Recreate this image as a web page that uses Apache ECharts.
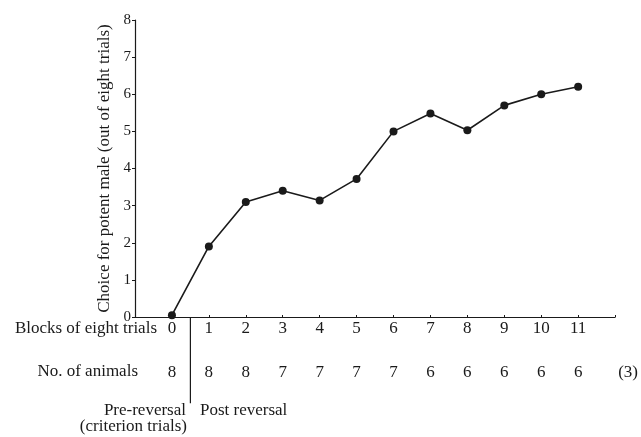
<!DOCTYPE html>
<html>
<head>
<meta charset="utf-8">
<script src="https://cdn.jsdelivr.net/npm/echarts@6/dist/echarts.min.js"></script>
<style>html,body{margin:0;padding:0;background:#fff;}#c{width:641px;height:437px;}</style>
</head>
<body>
<div id="c"></div>
<script>
var blocks = [0, 1, 2, 3, 4, 5, 6, 7, 8, 9, 10, 11];
var choice = [0.05, 1.9, 3.1, 3.4, 3.14, 3.72, 5.0, 5.48, 5.03, 5.7, 6.0, 6.2];
var animals = [8, 8, 8, 7, 7, 7, 7, 6, 6, 6, 6, 6];
var extraAnimals = '(3)';
var yTicks = [0, 1, 2, 3, 4, 5, 6, 7, 8];
var separatorX = 0.5;
var separatorBottom = -2.32;

var FONT = '"Liberation Serif", "DejaVu Serif", serif';
var INK = '#1a1a1a';
var FS = 17;
var chart = echarts.init(document.getElementById('c'), null, {renderer: 'canvas'});

var lineData = blocks.map(function (b, i) { return [b, choice[i]]; });

chart.setOption({
  animation: false,
  backgroundColor: '#fff',
  grid: {left: 135, right: 23, top: 20, bottom: 120, containLabel: false},
  xAxis: [{
    type: 'value', min: -1, max: 12, interval: 1,
    axisLine: {show: true, onZero: false, lineStyle: {color: INK, width: 1.2}},
    axisTick: {show: true, inside: true, length: 2, lineStyle: {color: INK}},
    splitLine: {show: false},
    axisLabel: {
      show: true, margin: 3, color: INK, fontFamily: FONT, fontSize: FS,
      showMinLabel: true, showMaxLabel: true,
      formatter: function (v) { return (v >= 0 && v <= 11) ? String(v) : ''; }
    }
  }, {
    type: 'value', min: -1, max: 12, interval: 1, position: 'bottom', offset: 44,
    axisLine: {show: false, onZero: false}, axisTick: {show: false}, splitLine: {show: false},
    axisLabel: {
      show: true, margin: 3, color: INK, fontFamily: FONT, fontSize: FS,
      showMinLabel: true, showMaxLabel: true,
      formatter: function (v) {
        if (v >= 0 && v <= 11) return String(animals[v]);
        if (v === 12) return '{p|' + extraAnimals + '}';
        return '';
      },
      rich: {p: {padding: [0, 0, 0, 26], color: INK, fontFamily: FONT, fontSize: FS}}
    }
  }],
  yAxis: {
    type: 'value', min: 0, max: 8, interval: 1,
    name: 'Choice for potent male (out of eight trials)',
    nameLocation: 'middle', nameGap: 19,
    nameTextStyle: {color: INK, fontFamily: FONT, fontSize: FS},
    axisLine: {show: true, onZero: false, lineStyle: {color: INK, width: 1.2}},
    axisTick: {show: true, length: 3, lineStyle: {color: INK}},
    splitLine: {show: false},
    axisLabel: {
      margin: 4, color: INK, fontFamily: FONT, fontSize: 15,
      formatter: function (v) { return yTicks.indexOf(v) >= 0 ? String(v) : ''; }
    }
  },
  series: [{
    type: 'line', data: lineData, symbol: 'circle', symbolSize: 8,
    lineStyle: {color: INK, width: 1.6}, itemStyle: {color: INK},
    clip: false, silent: true
  }, {
    type: 'line', xAxisIndex: 0, data: [[separatorX, 0], [separatorX, separatorBottom]],
    symbol: 'none', lineStyle: {color: INK, width: 1.2}, clip: false, silent: true
  }],
  graphic: [
    {type: 'text', right: 641 - 157, top: 320,
     style: {text: 'Blocks of eight trials', font: FS + 'px ' + FONT, fill: INK}},
    {type: 'text', right: 641 - 138, top: 363,
     style: {text: 'No. of animals', font: FS + 'px ' + FONT, fill: INK}},
    {type: 'text', right: 641 - 186, top: 402,
     style: {text: 'Pre-reversal', font: FS + 'px ' + FONT, fill: INK}},
    {type: 'text', right: 641 - 187, top: 418,
     style: {text: '(criterion trials)', font: FS + 'px ' + FONT, fill: INK}},
    {type: 'text', left: 200, top: 402,
     style: {text: 'Post reversal', font: FS + 'px ' + FONT, fill: INK}}
  ]
});
</script>
</body>
</html>
